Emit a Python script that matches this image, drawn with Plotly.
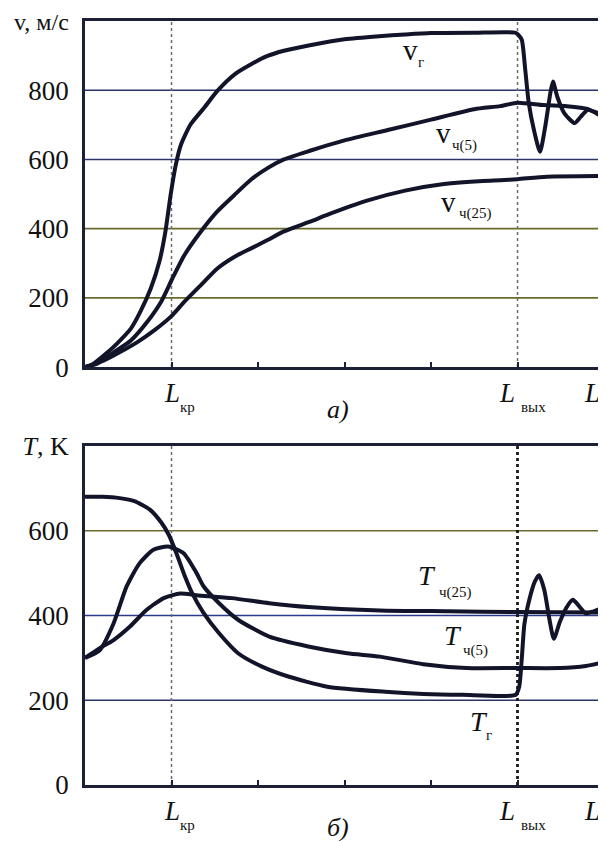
import plotly.graph_objects as go

# ---------------- data (x in units: L_kr = 1, L_vyh = 5, L = 6) ----------------
x_vg = [0, 0.07, 0.22, 0.37, 0.53, 0.64, 0.76, 0.86, 0.93, 0.99, 1.05, 1.11, 1.22, 1.38, 1.53,
        1.73, 1.92, 2.11, 2.3, 2.6, 3.0, 3.4, 3.7, 4.0, 4.5, 4.98, 5.01, 5.05, 5.09, 5.13,
        5.19, 5.26, 5.32, 5.38, 5.41, 5.46, 5.54, 5.66, 5.73, 5.81, 5.89, 6.0]
v_g = [0, 5, 34, 68, 111, 160, 227, 305, 392, 498, 585, 643, 701, 750, 798,
       846, 875, 899, 914, 930, 947, 956, 961, 965, 966, 966, 960, 945, 858, 763,
       685, 622, 694, 792, 825, 781, 734, 705, 723, 743, 738, 725]

x_v5 = [0, 0.14, 0.34, 0.53, 0.72, 0.88, 1.01, 1.15, 1.34, 1.53, 1.73, 1.92, 2.11, 2.3, 2.6,
        3.0, 3.5, 4.0, 4.5, 4.8, 5.0, 5.3, 5.57, 5.81, 6.0]
v_5 = [0, 10, 44, 77, 131, 189, 256, 324, 392, 450, 498, 542, 575, 600, 625,
       655, 685, 715, 745, 754, 764, 757, 754, 746, 720]

x_v25 = [0, 0.22, 0.41, 0.61, 0.8, 0.99, 1.15, 1.34, 1.53, 1.73, 1.92, 2.11, 2.3, 2.6, 2.82,
         3.26, 3.7, 4.15, 4.6, 4.8, 5.0, 5.34, 6.0]
v_25 = [0, 19, 44, 73, 106, 145, 189, 237, 285, 319, 343, 367, 392, 420, 442,
        481, 510, 529, 538, 540, 543, 550, 552]

x_tg = [0, 0.2, 0.4, 0.57, 0.75, 0.88, 0.97, 1.06, 1.15, 1.24, 1.37, 1.55, 1.77, 2.04, 2.35,
        2.8, 3.47, 3.91, 4.36, 4.98, 5.02, 5.05, 5.08, 5.14, 5.2, 5.25, 5.31, 5.37, 5.42,
        5.49, 5.57, 5.64, 5.72, 5.79, 5.88, 6.0]
T_g = [680, 680, 677, 670, 650, 620, 590, 545, 495, 452, 406, 358, 311, 280, 256,
       232, 220, 215, 213, 213, 232, 300, 380, 440, 480, 495, 460, 390, 345,
       385, 420, 437, 420, 405, 410, 420]

x_t5 = [0, 0.17, 0.33, 0.48, 0.63, 0.79, 0.96, 1.14, 1.29, 1.37, 1.55, 1.77, 2.13, 2.58, 3.03,
        3.41, 3.91, 4.41, 4.98, 5.49, 5.79, 6.0]
T_5 = [300, 318, 381, 468, 523, 555, 563, 547, 500, 469, 429, 390, 350, 327, 311,
       303, 285, 276, 276, 276, 281, 290]

x_t25 = [0, 0.17, 0.33, 0.52, 0.71, 0.91, 1.1, 1.29, 1.7, 2.13, 2.58, 3.41, 4.2, 4.98, 6.0]
T_25 = [300, 323, 342, 374, 413, 441, 452, 448, 441, 429, 420, 412, 410, 408, 407]

v_ticks = [0, 200, 400, 600, 800, 1000]
v_ticktext = ["0", "200", "400", "600", "800", "<span style='font-size:24px'>v, м/с</span>"]
T_ticks = [0, 200, 400, 600, 800]
T_ticktext = ["0", "200", "400", "600", "<span style='font-size:26px'><i>T</i>, K</span>"]
x_minor = [1, 2, 3, 4, 5]

FONT = "Liberation Serif"
LINE = "#12142a"
FRAME = "#1c2036"
NAVY = "#2a3468"
OLIVE = "#6a6a2c"

fig = go.Figure()

def add(x, y, xa, ya):
    fig.add_trace(go.Scatter(x=x, y=y, mode="lines", xaxis=xa, yaxis=ya,
                             line=dict(color=LINE, width=4, shape="spline", smoothing=0.6),
                             showlegend=False, hoverinfo="skip"))

add(x_vg, v_g, "x", "y")
add(x_v5, v_5, "x", "y")
add(x_v25, v_25, "x", "y")
add(x_tg, T_g, "x2", "y2")
add(x_t5, T_5, "x2", "y2")
add(x_t25, T_25, "x2", "y2")

shapes = []
# horizontal grid lines with scanned-style colours
for val, col in [(200, OLIVE), (400, OLIVE), (600, NAVY), (800, NAVY)]:
    shapes.append(dict(type="line", xref="x domain", yref="y", x0=0, x1=1, y0=val, y1=val,
                       line=dict(color=col, width=1.6), layer="below"))
for val, col in [(200, NAVY), (400, "#2a3a8c"), (600, OLIVE)]:
    shapes.append(dict(type="line", xref="x2 domain", yref="y2", x0=0, x1=1, y0=val, y1=val,
                       line=dict(color=col, width=1.6), layer="below"))
# vertical dotted lines at L_kr and L_vyh
for xv in [1, 5]:
    shapes.append(dict(type="line", xref="x", yref="y domain", x0=xv, x1=xv, y0=0, y1=1,
                       line=dict(color="#6b6b6b", width=1.5, dash="dot"), layer="below"))
shapes.append(dict(type="line", xref="x2", yref="y2 domain", x0=1, x1=1, y0=0, y1=1,
                   line=dict(color="#6b6b6b", width=1.5, dash="dot"), layer="below"))
shapes.append(dict(type="line", xref="x2", yref="y2 domain", x0=5, x1=5, y0=0, y1=1,
                   line=dict(color="#1a1a1a", width=2.8, dash="dot"), layer="below"))

ann = []
def txt(text, x, y, xr, yr, size=25, yshift=0):
    ann.append(dict(text=text, x=x, y=y, xref=xr, yref=yr, showarrow=False,
                    font=dict(family=FONT, size=size, color="#111111"),
                    xanchor="center", yanchor="middle", yshift=yshift))

# curve labels (top)
txt("v", 3.76, 916, "x", "y", size=29)
txt("г", 3.88, 882, "x", "y", size=15)
txt("v", 4.14, 675, "x", "y", size=29)
txt("ч(5)", 4.39, 641, "x", "y", size=15)
txt("v", 4.2, 478, "x", "y", size=29)
txt("ч(25)", 4.52, 444, "x", "y", size=15)
# curve labels (bottom)
txt("<i>T</i>", 3.95, 494, "x2", "y2", size=28)
txt("ч(25)", 4.28, 455, "x2", "y2", size=15)
txt("<i>T</i>", 4.26, 353, "x2", "y2", size=28)
txt("ч(5)", 4.52, 318, "x2", "y2", size=15)
txt("<i>T</i>", 4.55, 149, "x2", "y2", size=28)
txt("г", 4.67, 118, "x2", "y2", size=15)

# x-axis labels
for xa, ya, panel in [("x", "y", "<i>а)</i>"), ("x2", "y2", "<i>б)</i>")]:
    txt("<i>L</i>", 1.0, 0, xa, ya, size=27, yshift=-26)
    txt("кр", 1.19, 0, xa, ya, size=15, yshift=-40)
    txt("<i>L</i>", 4.88, 0, xa, ya, size=27, yshift=-26)
    txt("вых", 5.19, 0, xa, ya, size=15, yshift=-40)
    txt("<i>L</i>", 5.86, 0, xa, ya, size=27, yshift=-26)
    txt(panel, 2.93, 0, xa, ya, size=26, yshift=-42)

axis_x = dict(range=[0, 6], showgrid=False, zeroline=False, showline=True, mirror=True,
              linecolor=FRAME, linewidth=2.5, ticks="inside", ticklen=5, tickwidth=1.5,
              tickcolor=FRAME, tickvals=x_minor, showticklabels=False, automargin=False)
# the page body adds an 8px offset, so the figure is sized to 598x833
fig.update_layout(
    width=598, height=833,
    margin=dict(l=77, r=2, t=13, b=56, autoexpand=False),
    paper_bgcolor="white", plot_bgcolor="white",
    font=dict(family=FONT, size=26, color="#111111"),
    xaxis=dict(axis_x, domain=[0, 1], anchor="y"),
    xaxis2=dict(axis_x, domain=[0, 1], anchor="y2"),
    yaxis=dict(domain=[0.547, 1], range=[0, 1000], tickvals=v_ticks, ticktext=v_ticktext,
               showgrid=False, zeroline=False, showline=True, mirror=True, linecolor=FRAME,
               linewidth=2.5, ticks="", ticklabelstandoff=8, anchor="x", automargin=False,
               ticklabeloverflow="allow", tickfont=dict(family=FONT, size=27)),
    yaxis2=dict(domain=[0, 0.4437], range=[0, 800], tickvals=T_ticks, ticktext=T_ticktext,
                showgrid=False, zeroline=False, showline=True, mirror=True, linecolor=FRAME,
                linewidth=2.5, ticks="", ticklabelstandoff=8, anchor="x2", automargin=False,
                ticklabeloverflow="allow", tickfont=dict(family=FONT, size=27)),
    shapes=shapes, annotations=ann,
)

fig.write_html("out.html")
